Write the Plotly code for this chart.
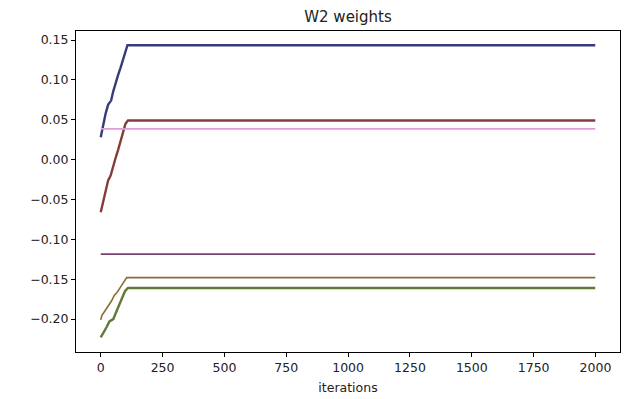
import plotly.graph_objects as go

# ---- data ----
blue_x = [0, 5, 10, 20, 30, 36, 42, 50, 60, 70, 80, 90, 100, 108, 1999]
blue_y = [0.028, 0.036, 0.045, 0.058, 0.069, 0.072, 0.074, 0.085, 0.097, 0.106, 0.115, 0.126, 0.137, 0.1435, 0.1435]

red_x = [0, 10, 20, 30, 40, 50, 60, 70, 80, 90, 100, 110, 1999]
red_y = [-0.066, -0.053, -0.040, -0.026, -0.020, -0.008, 0.002, 0.012, 0.022, 0.035, 0.045, 0.049, 0.049]

pink_x = [0, 1999]
pink_y = [0.0385, 0.0385]

purple_x = [0, 1999]
purple_y = [-0.1185, -0.1185]

brown_x = [0, 5, 12, 25, 44, 55, 65, 80, 91, 105, 1999]
brown_y = [-0.201, -0.195, -0.192, -0.186, -0.177, -0.170, -0.167, -0.160, -0.154, -0.148, -0.148]

green_x = [0, 10, 24, 35, 51, 60, 70, 78, 90, 98, 110, 1999]
green_y = [-0.223, -0.218, -0.210, -0.203, -0.200, -0.193, -0.186, -0.179, -0.170, -0.165, -0.161, -0.161]

x_ticks = [0, 250, 500, 750, 1000, 1250, 1500, 1750, 2000]
y_ticks = [-0.20, -0.15, -0.10, -0.05, 0.00, 0.05, 0.10, 0.15]
y_ticktext = [("\u2212" if v < 0 else "") + f"{abs(v):.2f}" for v in y_ticks]

series = [
    (blue_x, blue_y, "#393b79", 2.4),
    (red_x, red_y, "#843c39", 2.4),
    (green_x, green_y, "#637939", 2.4),
    (brown_x, brown_y, "#8c6d31", 1.6),
    (purple_x, purple_y, "#7b4173", 1.6),
    (pink_x, pink_y, "#de9ed6", 1.6),
]

fig = go.Figure()
for xs, ys, c, w in series:
    fig.add_trace(go.Scatter(x=xs, y=ys, mode="lines",
                             line=dict(color=c, width=w), showlegend=False))

axis_common = dict(showline=True, linecolor="black", linewidth=1, mirror=True,
                   ticks="outside", ticklen=4, tickwidth=1, tickcolor="black",
                   showgrid=False, zeroline=False,
                   tickfont=dict(family="DejaVu Sans", size=12.5, color="#222"))

fig.update_layout(
    width=625, height=399,
    margin=dict(l=76, r=5, t=31, b=47),
    plot_bgcolor="white", paper_bgcolor="white",
    title=dict(text="W2 weights", x=(76 + 620) / 2 / 625, xanchor="center",
               y=1 - 17 / 399, yanchor="middle",
               font=dict(family="DejaVu Sans", size=15, color="#222")),
    xaxis=dict(range=[-99.95, 2098.95], tickvals=x_ticks,
               ticktext=[str(v) for v in x_ticks],
               title=dict(text="iterations", standoff=9,
                          font=dict(family="DejaVu Sans", size=12.5, color="#222")),
               **axis_common),
    yaxis=dict(range=[-0.2413, 0.1613], tickvals=y_ticks, ticktext=y_ticktext,
               **axis_common),
)

fig.write_html("out.html")
